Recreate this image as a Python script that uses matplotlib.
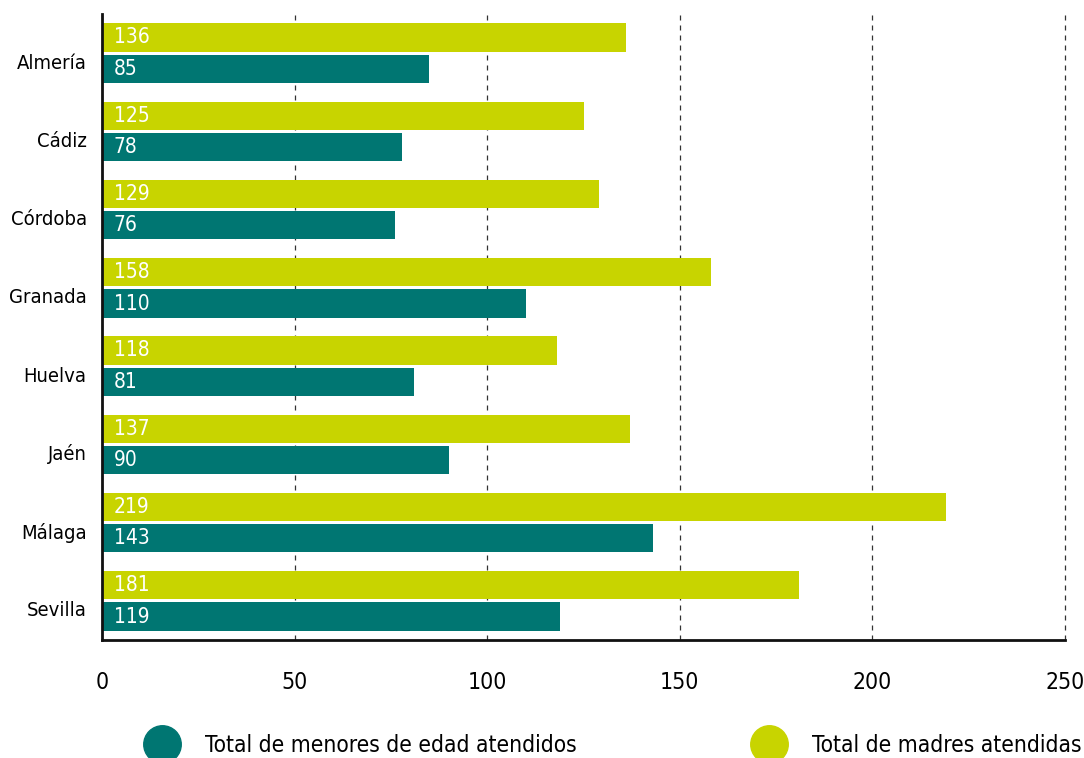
import matplotlib.pyplot as plt
import numpy as np
from matplotlib.lines import Line2D
from matplotlib.transforms import ScaledTranslation

plt.rcParams["font.family"] = ["DejaVu Sans"]
plt.rcParams["font.stretch"] = "condensed"

provincias = ["Almería", "Cádiz", "Córdoba", "Granada", "Huelva", "Jaén", "Málaga", "Sevilla"]
madres = [136, 125, 129, 158, 118, 137, 219, 181]
menores = [85, 78, 76, 110, 81, 90, 143, 119]
x_ticks = [0, 50, 100, 150, 200, 250]

TEAL = "#007672"
LIME = "#C8D400"

fig = plt.figure(figsize=(10.84, 7.58), dpi=100)
ax = fig.add_axes([0.0941, 0.1557, 0.8884, 0.8258])

y = np.arange(len(provincias))
h = 0.36
off = 0.2

ax.barh(y - off, madres, height=h, color=LIME, zorder=2)
ax.barh(y + off, menores, height=h, color=TEAL, zorder=2)

for yi, v in zip(y, madres):
    ax.text(3, yi - off, str(v), color="white", fontsize=15, va="center", ha="left", zorder=3)
for yi, v in zip(y, menores):
    ax.text(3, yi + off, str(v), color="white", fontsize=15, va="center", ha="left", zorder=3)

ax.set_xlim(0, 250)
ax.set_ylim(len(provincias) - 0.5, -0.5)
ax.set_xticks(x_ticks)
ax.set_xticklabels([str(t) for t in x_ticks], fontsize=16.5)
ax.set_yticks(y)
ax.set_yticklabels(provincias, fontsize=14.5)
ax.tick_params(axis="x", length=0, pad=22)
ax.tick_params(axis="y", length=0, pad=11)
# province names sit a little below the pair centre
shift = ScaledTranslation(0, -0.08, fig.dpi_scale_trans)
for lab in ax.get_yticklabels():
    lab.set_transform(lab.get_transform() + shift)

ax.xaxis.grid(True, linestyle=(0, (4, 4)), color="#333333", linewidth=0.9, zorder=0)
for gl in ax.xaxis.get_gridlines():
    gl.set_clip_on(False)
ax.set_axisbelow(True)
for s in ["top", "right"]:
    ax.spines[s].set_visible(False)
for s in ["left", "bottom"]:
    ax.spines[s].set_linewidth(2)
    ax.spines[s].set_color("#111111")

handles = [
    Line2D([], [], marker="o", linestyle="none", markersize=27, color=TEAL),
    Line2D([], [], marker="o", linestyle="none", markersize=27, color=LIME),
]
fig.legend(handles, ["Total de menores de edad atendidos", "Total de madres atendidas"],
           loc="center left", bbox_to_anchor=(0.110, 0.017), ncol=2, frameon=False,
           fontsize=16.3, columnspacing=7.5, handletextpad=0.9)

fig.savefig("out.png", dpi=100)
